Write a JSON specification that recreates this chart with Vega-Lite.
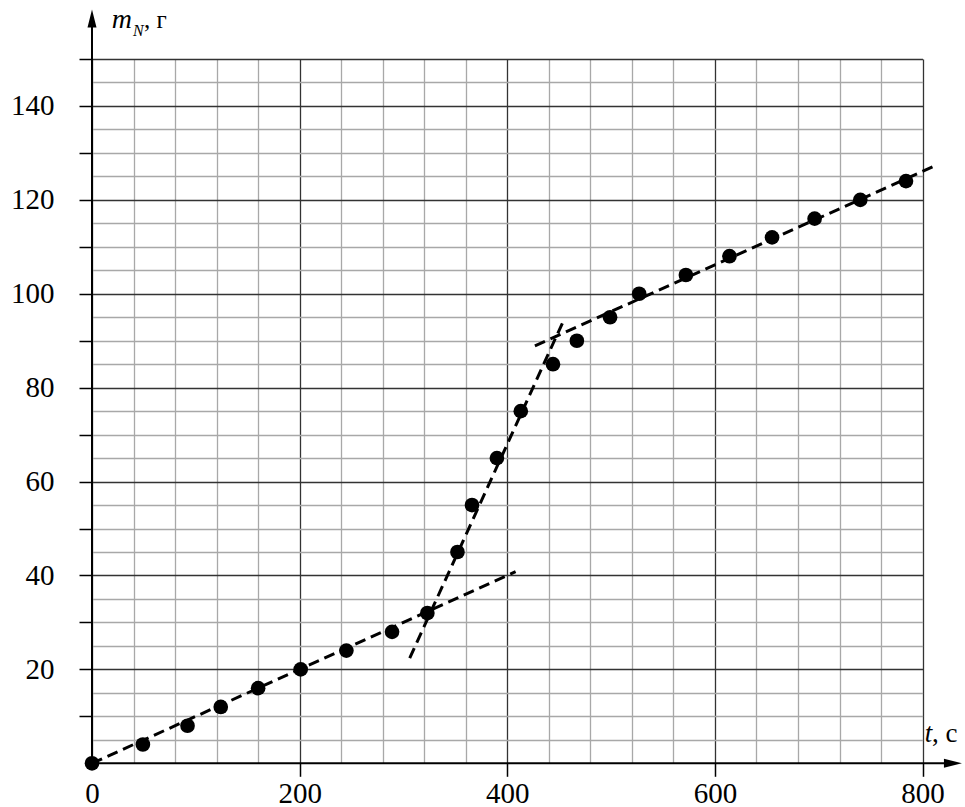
{
  "$schema": "https://vega.github.io/schema/vega-lite/v6.json",
  "autosize": {"type": "none"},
  "width": 830.6,
  "height": 704.3,
  "padding": {"left": 92, "top": 59, "right": 42, "bottom": 44},
  "background": "white",
  "config": {
    "view": {"stroke": null},
    "font": "Liberation Serif",
    "axis": {"labelFont": "Liberation Serif", "labelFontSize": 29, "labelColor": "black", "domain": false, "tickColor": "black", "tickWidth": 1.5, "tickSize": 13, "title": null}
  },
  "datasets": {
    "points": [
      {"t": 0, "m": 0}, {"t": 49, "m": 4}, {"t": 92, "m": 8}, {"t": 124, "m": 12}, {"t": 160, "m": 16},
      {"t": 201, "m": 20}, {"t": 245, "m": 24}, {"t": 289, "m": 28}, {"t": 323, "m": 32}, {"t": 352, "m": 45},
      {"t": 366, "m": 55}, {"t": 390, "m": 65}, {"t": 413, "m": 75}, {"t": 444, "m": 85}, {"t": 467, "m": 90},
      {"t": 499, "m": 95}, {"t": 527, "m": 100}, {"t": 572, "m": 104}, {"t": 614, "m": 108}, {"t": 655, "m": 112},
      {"t": 696, "m": 116}, {"t": 740, "m": 120}, {"t": 784, "m": 124}
    ],
    "fits": [
      {"line": "a", "t": 0, "m": 0}, {"line": "a", "t": 408, "m": 40.8},
      {"line": "b", "t": 306, "m": 22.4}, {"line": "b", "t": 453.6, "m": 94},
      {"line": "c", "t": 426.6, "m": 88.9}, {"line": "c", "t": 810.3, "m": 127.1}
    ],
    "one": [{"t": 0, "m": 0}]
  },
  "encoding": {
    "x": {"field": "t", "type": "quantitative", "scale": {"domain": [0, 800], "nice": false, "zero": false},
      "axis": {"values": [0,40,80,120,160,200,240,280,320,360,400,440,480,520,560,600,640,680,720,760,800],
        "grid": true,
        "gridColor": {"condition": {"test": "datum.value % 200 === 0", "value": "#333333"}, "value": "#a8a8a8"},
        "gridWidth": 1.3,
        "tickOpacity": {"condition": {"test": "datum.value % 200 === 0 && datum.value > 0", "value": 1}, "value": 0},
        "labelExpr": "datum.value % 200 === 0 ? datum.label : ''",
        "labelPadding": 3, "labelFlush": false, "labelOverlap": false}},
    "y": {"field": "m", "type": "quantitative", "scale": {"domain": [0, 150], "nice": false, "zero": false},
      "axis": {"values": [5,10,15,20,25,30,35,40,45,50,55,60,65,70,75,80,85,90,95,100,105,110,115,120,125,130,135,140,145,150],
        "grid": true,
        "gridColor": {"condition": {"test": "datum.value % 20 === 0 || datum.value === 150", "value": "#333333"}, "value": "#a8a8a8"},
        "gridWidth": 1.3,
        "tickOpacity": {"condition": {"test": "datum.value % 10 === 0", "value": 1}, "value": 0},
        "labelExpr": "datum.value % 20 === 0 ? datum.label : ''",
        "labelPadding": 25, "labelFlush": false, "labelOverlap": false}}
  },
  "layer": [
    {
      "data": {"name": "fits"},
      "mark": {"type": "line", "color": "black", "strokeWidth": 3, "strokeDash": [11, 6]},
      "encoding": {"detail": {"field": "line"}}
    },
    {
      "data": {"name": "points"},
      "mark": {"type": "circle", "color": "black", "size": 215, "opacity": 1}
    },
    {
      "data": {"name": "one"},
      "mark": {"type": "rule", "color": "black", "strokeWidth": 2},
      "encoding": {"x": {"datum": 0, "type": "quantitative"}, "x2": {"datum": 829}, "y": {"datum": 0, "type": "quantitative"}}
    },
    {
      "data": {"name": "one"},
      "mark": {"type": "rule", "color": "black", "strokeWidth": 2},
      "encoding": {"y": {"datum": 0, "type": "quantitative"}, "y2": {"datum": 158.6}, "x": {"datum": 0, "type": "quantitative"}}
    },
    {
      "data": {"name": "one"},
      "mark": {"type": "point", "shape": "M1,0L-1,-0.5L-1,0.5Z", "filled": true, "color": "black", "size": 324, "opacity": 1},
      "encoding": {"x": {"datum": 829.2, "type": "quantitative"}, "y": {"datum": 0, "type": "quantitative"}}
    },
    {
      "data": {"name": "one"},
      "mark": {"type": "point", "shape": "M0,-1L-0.5,1L0.5,1Z", "filled": true, "color": "black", "size": 324, "opacity": 1},
      "encoding": {"x": {"datum": 0, "type": "quantitative"}, "y": {"datum": 158.6, "type": "quantitative"}}
    },
    {
      "data": {"name": "one"},
      "mark": {"type": "text", "text": "m", "font": "Liberation Serif", "fontStyle": "italic", "fontSize": 28, "align": "left", "baseline": "alphabetic", "color": "black"},
      "encoding": {"x": {"datum": 19, "type": "quantitative"}, "y": {"datum": 156.5, "type": "quantitative"}}
    },
    {
      "data": {"name": "one"},
      "mark": {"type": "text", "text": "N", "font": "Liberation Serif", "fontStyle": "italic", "fontSize": 16, "align": "left", "baseline": "alphabetic", "color": "black"},
      "encoding": {"x": {"datum": 39.5, "type": "quantitative"}, "y": {"datum": 154.8, "type": "quantitative"}}
    },
    {
      "data": {"name": "one"},
      "mark": {"type": "text", "text": ", г", "font": "Liberation Serif", "fontSize": 25, "align": "left", "baseline": "alphabetic", "color": "black"},
      "encoding": {"x": {"datum": 50, "type": "quantitative"}, "y": {"datum": 156.5, "type": "quantitative"}}
    },
    {
      "data": {"name": "one"},
      "mark": {"type": "text", "text": "t", "font": "Liberation Serif", "fontStyle": "italic", "fontSize": 27, "align": "left", "baseline": "alphabetic", "color": "black"},
      "encoding": {"x": {"datum": 802, "type": "quantitative"}, "y": {"datum": 4.6, "type": "quantitative"}}
    },
    {
      "data": {"name": "one"},
      "mark": {"type": "text", "text": ", с", "font": "Liberation Serif", "fontSize": 27, "align": "left", "baseline": "alphabetic", "color": "black"},
      "encoding": {"x": {"datum": 809, "type": "quantitative"}, "y": {"datum": 4.6, "type": "quantitative"}}
    }
  ]
}
